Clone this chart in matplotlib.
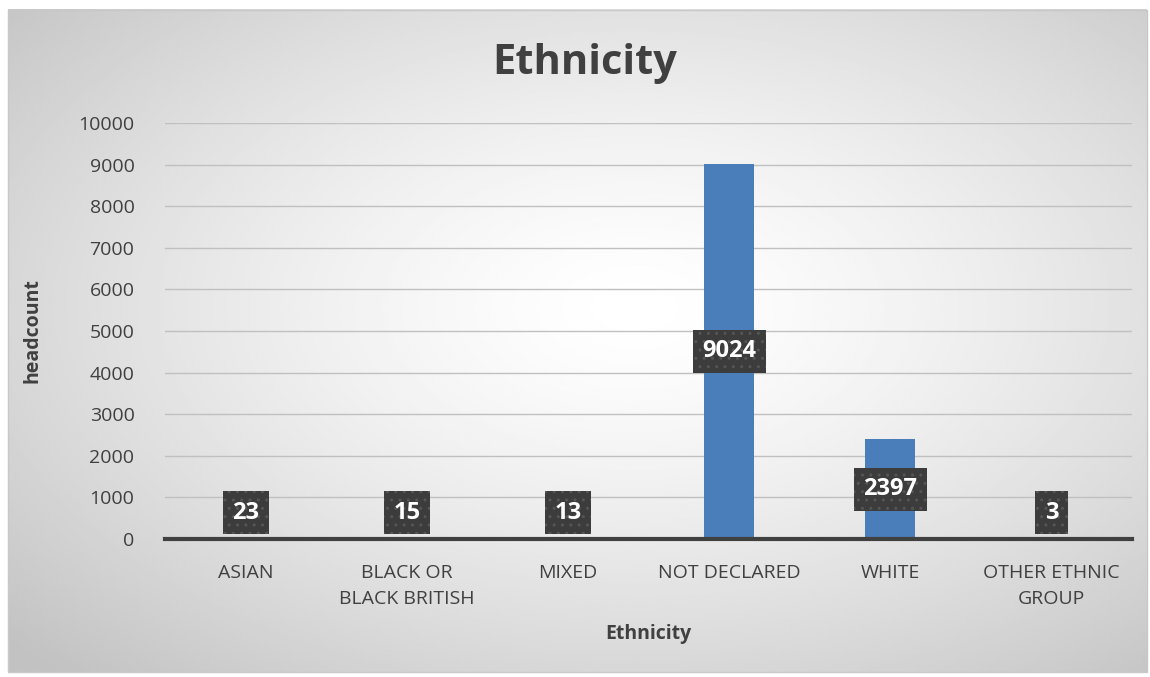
import matplotlib.pyplot as plt
import numpy as np

categories = ["ASIAN", "BLACK OR\nBLACK BRITISH", "MIXED", "NOT DECLARED", "WHITE", "OTHER ETHNIC\nGROUP"]
headcount = [23, 15, 13, 9024, 2397, 3]
yticks = np.arange(0, 10001, 1000)

plt.rcParams['font.family'] = ['Open Sans', 'DejaVu Sans']

fig = plt.figure(figsize=(11.5, 6.77), dpi=100)

# radial gradient background for the chart area
bg = fig.add_axes([0, 0, 1, 1])
xx, yy = np.meshgrid(np.linspace(0, 1, 400), np.linspace(0, 1, 300))
r = np.sqrt(((xx - 0.55) / 0.75) ** 2 + ((yy - 0.45) / 0.75) ** 2)
shade = 1.0 - 0.24 * np.clip(r, 0, 1) ** 1.4
bg.imshow(shade, cmap='gray', vmin=0, vmax=1, extent=[0.007, 0.997, 0.007, 0.985],
          aspect='auto', origin='upper')
bg.set_xlim(0, 1)
bg.set_ylim(0, 1)
bg.add_patch(plt.Rectangle((0.007, 0.007), 0.99, 0.978, fill=False, ec='#c8c8c8', lw=1))
bg.axis('off')

ax = fig.add_axes([165 / 1150, 1 - 539 / 677, (1132 - 165) / 1150, (539 - 123) / 677])
ax.patch.set_alpha(0)

x = np.arange(len(categories))
ax.bar(x, headcount, width=0.31, color='#4a7ebb', zorder=2)

ax.set_ylim(0, 10000)
ax.set_xlim(-0.5, len(categories) - 0.5)
ax.set_yticks(yticks)
ax.set_yticklabels([str(v) for v in yticks], fontsize=14, color='#404040')
ax.set_xticks(x)
ax.set_xticklabels(categories, fontsize=14, color='#404040', linespacing=1.55)
ax.tick_params(axis='x', length=0, pad=18)
ax.tick_params(axis='y', length=0, pad=22)
ax.grid(axis='y', color='#c0c0c0', lw=1, zorder=0)
for s in ['top', 'right', 'left']:
    ax.spines[s].set_visible(False)
ax.spines['bottom'].set_color('#404040')
ax.spines['bottom'].set_linewidth(3)
ax.spines['bottom'].set_zorder(3)

for xi, v in zip(x, headcount):
    ypos = v / 2 if v > 2000 else 630
    ax.text(xi, ypos, str(v), ha='center', va='center', fontsize=17, fontweight='bold',
            color='white', zorder=5,
            bbox=dict(boxstyle='square,pad=0.4', fc='#3c3c3c', ec='#555555', lw=0, hatch='..'))

ax.set_ylabel('headcount', fontsize=14, fontweight='bold', color='#404040', labelpad=26)
ax.set_xlabel('Ethnicity', fontsize=14, fontweight='bold', color='#404040', labelpad=12)
fig.text(585 / 1150, 1 - 64 / 677, 'Ethnicity', ha='center', va='center', fontsize=30,
         fontweight='bold', color='#404040')

fig.savefig('out.png', dpi=100)
